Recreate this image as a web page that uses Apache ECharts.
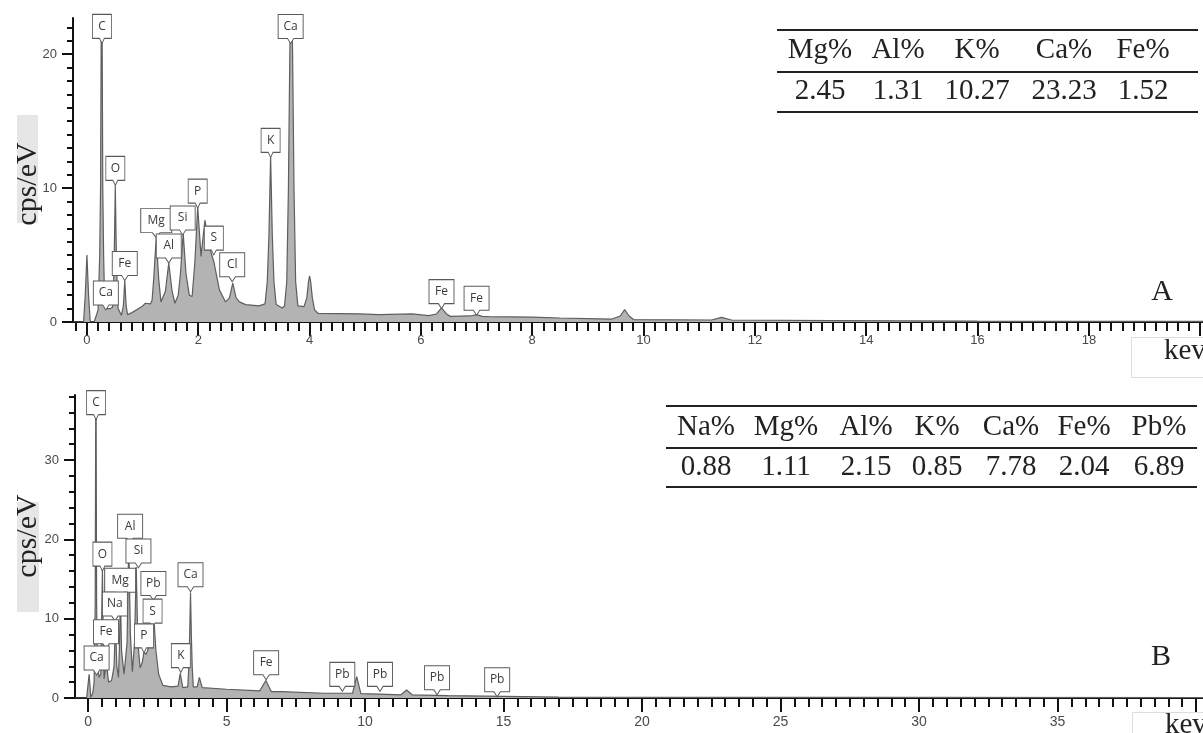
<!DOCTYPE html>
<html><head><meta charset="utf-8">
<script src="https://cdn.jsdelivr.net/npm/echarts@6/dist/echarts.min.js"></script>
<style>html,body{margin:0;padding:0;background:#fff;overflow:hidden}#c{width:1203px;height:733px}</style>
</head><body><div id="c"></div>
<script>
// ---------- DATA ----------
// Spectrum A: [keV, cps/eV]
const spectrumA = [
  [-0.25,0],[-0.06,0],[-0.03,2.0],[0.0,5.0],[0.03,2.0],[0.06,0],[0.13,0],[0.17,0.5],[0.20,0.9],[0.23,5],[0.245,10],
  [0.255,20],[0.265,27],[0.275,20],[0.285,10],[0.30,5],[0.32,1.0],
  [0.35,0.9],[0.42,1.0],[0.46,1.1],[0.48,3],[0.495,6],[0.51,10.2],[0.525,6],[0.54,3],[0.56,1.0],[0.62,0.5],
  [0.655,1.2],[0.68,3.1],[0.705,1.2],[0.73,0.55],[0.81,0.7],[0.99,1.15],[1.05,1.4],[1.14,1.35],[1.17,1.6],
  [1.2,3.2],[1.245,6.3],[1.29,3.2],[1.33,1.5],[1.36,1.4],[1.41,2.3],[1.47,4.4],[1.53,2.3],[1.58,1.4],[1.64,2.0],
  [1.68,3.6],[1.73,6.6],[1.78,3.6],[1.84,2.0],[1.89,1.9],[1.94,4.5],[1.99,8.6],[2.05,4.9],
  [2.12,7.6],[2.2,5.6],[2.28,4.5],[2.38,2.4],[2.49,1.5],[2.56,1.8],[2.62,2.9],[2.68,1.8],[2.74,1.5],[2.85,1.3],
  [3.09,1.2],[3.2,1.35],[3.24,3],[3.27,6.5],[3.30,12.4],[3.33,6.5],[3.36,3],[3.40,1.3],[3.51,1.05],
  [3.55,1.2],[3.59,3],[3.62,10],[3.645,20],[3.67,27],[3.695,20],[3.72,10],[3.75,3],[3.79,1.2],
  [3.9,1.15],[3.95,1.8],[3.98,3.0],[4.0,3.45],[4.02,3.0],[4.05,1.8],[4.09,0.9],[4.15,0.65],[4.9,0.6],[5.24,0.55],
  [5.84,0.6],[6.14,0.47],[6.28,0.6],[6.37,1.05],[6.46,0.6],[6.53,0.42],[6.9,0.45],[7.0,0.55],[7.1,0.42],[7.22,0.4],
  [7.99,0.37],[8.5,0.3],[9.43,0.22],[9.58,0.45],[9.66,0.92],[9.74,0.45],[9.82,0.18],[11.22,0.15],[11.4,0.35],
  [11.58,0.15],[13.4,0.1],[16,0.06],[20.05,0.05]
];
// Spectrum B: [keV, cps/eV]
const spectrumB = [
  [-0.47,0],[-0.05,0],[0.04,3.0],[0.1,0.1],[0.17,0.6],[0.22,2.0],[0.26,12],[0.285,46],[0.31,12],[0.34,3.0],[0.37,3.4],
  [0.40,2.6],[0.46,3.0],[0.49,9],[0.52,16.2],[0.55,8],[0.58,2.4],[0.62,2.2],[0.645,4],[0.67,6.2],[0.695,3.5],[0.74,2.0],
  [0.85,2.2],[0.94,4],[0.99,9.8],[1.04,4],[1.1,2.6],[1.13,6],[1.17,12.8],[1.21,6],[1.3,3.0],[1.41,7],[1.47,19.6],
  [1.53,8],[1.6,3.3],[1.68,7],[1.74,16.5],[1.80,7],[1.88,3.8],[1.96,4.5],[2.02,5.8],[2.1,5.5],[2.2,6.5],[2.3,10],
  [2.35,12.3],[2.4,8.8],[2.45,6.0],[2.55,3.0],[2.7,1.6],[3.0,1.4],[3.25,1.5],[3.33,3.1],[3.42,1.3],[3.6,1.4],
  [3.64,4],[3.67,8],[3.70,13.3],[3.73,8],[3.76,4],[3.8,1.4],[3.94,1.4],[4.02,2.6],[4.12,1.3],[5.0,1.1],[6.2,0.9],
  [6.42,2.2],[6.62,0.8],[7.0,0.8],[8.5,0.6],[9.2,0.6],[9.55,0.6],[9.7,2.7],[9.85,0.55],[10.5,0.5],[11.3,0.4],
  [11.5,1.0],[11.7,0.4],[13.0,0.3],[15.0,0.2],[17.0,0.1],[40.25,0.05]
];
// Peak annotations: [element, keV, cps at pointer tip]
const peakLabelsA = [
  ['C',0.27,20.8],['Ca',3.66,20.8],['O',0.51,10.2],['Ca',0.34,0.9],['Fe',0.68,3.1],['Mg',1.245,6.3],
  ['Al',1.47,4.4],['Si',1.72,6.5],['P',1.99,8.5],['S',2.28,5.0],['Cl',2.61,3.0],['K',3.30,12.3],
  ['Fe',6.37,1.0],['Fe',7.0,0.5]
];
const peakLabelsB = [
  ['C',0.29,35.1],['O',0.52,16.0],['Al',1.52,19.5],['Si',1.82,16.4],['Mg',1.16,12.7],['Pb',2.36,12.3],
  ['Ca',3.70,13.4],['Na',0.97,9.7],['S',2.33,8.8],['Fe',0.65,6.2],['P',2.02,5.7],['Ca',0.31,2.9],
  ['K',3.35,3.2],['Fe',6.43,2.3],['Pb',9.18,0.84],['Pb',10.54,0.84],['Pb',12.6,0.4],['Pb',14.77,0.15]
];
// Axis tick labels
const xLabelsA = [0,2,4,6,8,10,12,14,16,18];
const xMajorA = [0,2,4,6,8,10,12,14,16,18,20];
const yLabelsA = [0,10,20];
const xLabelsB = [0,5,10,15,20,25,30,35];
const xMajorB = [0,5,10,15,20,25,30,35,40];
const yLabelsB = [0,10,20,30];
// Composition tables
const tableAHead = ['Mg%','Al%','K%','Ca%','Fe%'];
const tableAVals = ['2.45','1.31','10.27','23.23','1.52'];
const tableBHead = ['Na%','Mg%','Al%','K%','Ca%','Fe%','Pb%'];
const tableBVals = ['0.88','1.11','2.15','0.85','7.78','2.04','6.89'];

// ---------- helpers ----------
function range(a,b,s){const r=[];const n=Math.round((b-a)/s);for(let i=0;i<=n;i++)r.push(+(a+i*s).toFixed(4));return r;}
const minorXA = range(-0.2,20,0.2);
const minorYA = range(1,22,1);
const minorXB = range(0,40,0.5);
const minorYB = range(2,38,2);

const tickFont = '"Liberation Sans Narrow","Liberation Sans",Arial,sans-serif';
const serif = '"Liberation Serif","Times New Roman",serif';

function boxWidth(n){return n==='Mg'?31:(n.length===1?19:25);}
function markData(list){
  return list.map(([n,k,c])=>({
    name:n, coord:[k,c], value:n,
    symbol:'path://M0,0L20,0L20,24L12.5,24L10,29L7.5,24L0,24Z',
    symbolSize:[boxWidth(n),29], symbolOffset:[0,-14.5], symbolKeepAspect:false,
    label:{show:true,formatter:n,position:'inside',offset:[0,-2.5],color:'#3a3a3a',fontSize:12,fontFamily:'"Open Sans","Noto Sans",sans-serif'},
    itemStyle:{color:'#fff',borderColor:'#5a5a5a',borderWidth:1}
  }));
}

function majorX(grid,min,max,ticks,labels,margin,fs){
  return {type:'value',gridIndex:grid,min:min,max:max,position:'bottom',
    axisLine:{show:true,onZero:false,lineStyle:{color:'#111',width:2}},
    axisTick:{show:true,customValues:ticks,length:14,lineStyle:{color:'#111',width:2}},
    axisLabel:{show:true,customValues:labels,margin:margin,fontSize:fs,color:'#4a4a4a',fontFamily:tickFont},
    splitLine:{show:false}};
}
function minorX(grid,min,max,ticks){
  return {type:'value',gridIndex:grid,min:min,max:max,position:'bottom',
    axisLine:{show:false,onZero:false},
    axisTick:{show:true,customValues:ticks,length:9,lineStyle:{color:'#111',width:2}},
    axisLabel:{show:false},splitLine:{show:false}};
}
function majorY(grid,min,max,labels){
  return {type:'value',gridIndex:grid,min:min,max:max,position:'left',
    axisLine:{show:true,onZero:false,lineStyle:{color:'#111',width:2}},
    axisTick:{show:true,customValues:labels,length:11,lineStyle:{color:'#111',width:2}},
    axisLabel:{show:true,customValues:labels,margin:16,fontSize:13,color:'#4a4a4a',fontFamily:tickFont},
    splitLine:{show:false}};
}
function minorY(grid,min,max,ticks){
  return {type:'value',gridIndex:grid,min:min,max:max,position:'left',
    axisLine:{show:false,onZero:false},
    axisTick:{show:true,customValues:ticks,length:6,lineStyle:{color:'#111',width:2}},
    axisLabel:{show:false},splitLine:{show:false}};
}

// table graphics
function tableGraphics(x0,x1,yTop,yMid,yBot,headY,valY,cols,head,vals){
  const g=[];
  [yTop,yMid,yBot].forEach(y=>g.push({type:'line',shape:{x1:x0,y1:y,x2:x1,y2:y},style:{stroke:'#222',lineWidth:2}}));
  head.forEach((h,i)=>g.push({type:'text',x:cols[i],y:headY,style:{text:h,font:'29px '+serif,fill:'#222',align:'center',verticalAlign:'middle'}}));
  vals.forEach((v,i)=>g.push({type:'text',x:cols[i],y:valY,style:{text:v,font:'29px '+serif,fill:'#222',align:'center',verticalAlign:'middle'}}));
  return g;
}

const graphics = [
  {type:'rect',shape:{x:17,y:115,width:21,height:108},style:{fill:'#e6e6e6'}},
  {type:'text',x:28,y:184,rotation:Math.PI/2,style:{text:'cps/eV',font:'30px '+serif,fill:'#222',align:'center',verticalAlign:'middle'}},
  {type:'rect',shape:{x:17,y:502,width:22,height:110},style:{fill:'#e6e6e6'}},
  {type:'text',x:28,y:536,rotation:Math.PI/2,style:{text:'cps/eV',font:'30px '+serif,fill:'#222',align:'center',verticalAlign:'middle'}},
  {type:'text',x:1162,y:292,style:{text:'A',font:'30px '+serif,fill:'#222',align:'center',verticalAlign:'middle'}},
  {type:'text',x:1161,y:657,style:{text:'B',font:'30px '+serif,fill:'#222',align:'center',verticalAlign:'middle'}},
  {type:'rect',z:100,shape:{x:1131.5,y:337.5,width:80,height:40},style:{fill:'#fff',stroke:'#ddd',lineWidth:1}},
  {type:'text',z:101,x:1164,y:337,style:{text:'kev',font:'29px '+serif,fill:'#222',align:'left',verticalAlign:'top'}},
  {type:'rect',z:100,shape:{x:1132.5,y:712.5,width:80,height:40},style:{fill:'#fff',stroke:'#ddd',lineWidth:1}},
  {type:'text',z:101,x:1165,y:711,style:{text:'kev',font:'29px '+serif,fill:'#222',align:'left',verticalAlign:'top'}}
].concat(
  tableGraphics(777,1198,30,72,112,50,91,[820,898,977,1064,1143],tableAHead,tableAVals),
  tableGraphics(666,1197,406,448,487,427,467,[706,786,866,937,1011,1084,1159],tableBHead,tableBVals)
);

const option = {
  animation:false,
  backgroundColor:'#fff',
  grid:[
    {left:73,top:18,right:0,bottom:411,containLabel:false},
    {left:75,top:395,right:0,bottom:35,containLabel:false}
  ],
  xAxis:[
    majorX(0,-0.25,20.05,xMajorA,xLabelsA,12,13),
    minorX(0,-0.25,20.05,minorXA),
    majorX(1,-0.47,40.25,xMajorB,xLabelsB,17,14),
    minorX(1,-0.47,40.25,minorXB)
  ],
  yAxis:[
    majorY(0,0,22.7,yLabelsA),
    minorY(0,0,22.7,minorYA),
    majorY(1,0,38.2,yLabelsB),
    minorY(1,0,38.2,minorYB)
  ],
  series:[
    {type:'line',xAxisIndex:0,yAxisIndex:0,data:spectrumA,showSymbol:false,symbol:'none',clip:true,
     lineStyle:{color:'#5e5e5e',width:1.2},areaStyle:{color:'#b3b3b3',opacity:1},
     markPoint:{data:markData(peakLabelsA),animation:false}},
    {type:'line',xAxisIndex:2,yAxisIndex:2,data:spectrumB,showSymbol:false,symbol:'none',clip:true,
     lineStyle:{color:'#5e5e5e',width:1.2},areaStyle:{color:'#b3b3b3',opacity:1},
     markPoint:{data:markData(peakLabelsB),animation:false}}
  ],
  graphic:graphics
};
const chart = echarts.init(document.getElementById('c'),null,{renderer:'canvas'});
chart.setOption(option);
</script></body></html>
